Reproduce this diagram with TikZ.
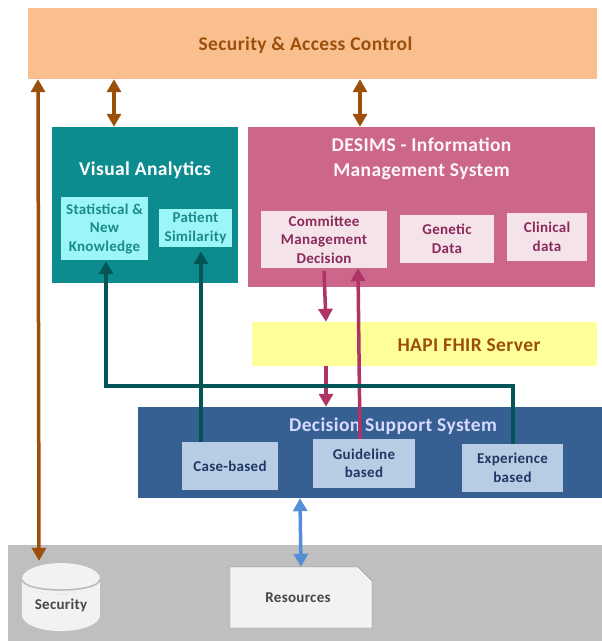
\documentclass[tikz,border=0pt]{standalone}
\usepackage{fontspec}
\setmainfont{Carlito}[LetterSpace=2]
\usetikzlibrary{shapes.geometric, shapes.misc, arrows.meta}
\definecolor{brownline}{HTML}{9C4F0A}
\definecolor{tealline}{HTML}{045557}
\definecolor{plumline}{HTML}{AE3468}
\definecolor{blueline}{HTML}{558ED5}
\newcommand{\itemfont}{\fontsize{15}{18.5}\selectfont\bfseries}
\newcommand{\titlefont}{\fontsize{19.5}{25}\selectfont\bfseries}
\tikzstyle{panel} = [rectangle, inner sep=0pt, text centered, font=\bfseries]
\tikzstyle{security} = [panel, fill={rgb,255:red,250;green,191;blue,143}]
\tikzstyle{tealbox} = [panel, fill={rgb,255:red,13;green,140;blue,143}]
\tikzstyle{tealitem} = [panel, fill={rgb,255:red,156;green,246;blue,248}, text={rgb,255:red,26;green,138;blue,140}, font=\itemfont]
\tikzstyle{plumbox} = [panel, fill={rgb,255:red,204;green,102;blue,138}]
\tikzstyle{plumitem} = [panel, fill={rgb,255:red,245;green,227;blue,234}, text={rgb,255:red,139;green,42;blue,90}, font=\itemfont]
\tikzstyle{bluebox} = [panel, fill={rgb,255:red,54;green,96;blue,146}]
\tikzstyle{blueitem} = [panel, fill={rgb,255:red,184;green,204;blue,228}, text={rgb,255:red,31;green,56;blue,100}, font=\itemfont]
\tikzstyle{title} = [white, align=center, font=\titlefont]
\tikzstyle{arrow} = [line width=3.5pt, {Triangle[width=14pt,length=13pt]}-{Triangle[width=14pt,length=13pt]}]
\tikzstyle{uparrow} = [line width=3.5pt, -{Triangle[width=14pt,length=13pt]}]

\begin{document}
\begin{tikzpicture}[node distance=50pt]
\useasboundingbox (-312.5pt,43.5pt) rectangle (289.5pt,-597.5pt);
\node (security) [security, minimum width=569pt, minimum height=71pt, label={[xshift=-7pt, yshift=-1.5pt, brownline, font=\titlefont]center:Security \& Access Control}] {};

\node (visual) [tealbox, below of=security, xshift=-167.5pt, yshift=-111.5pt, minimum width=186pt, minimum height=156pt, label={[yshift=34.5pt, title]center:Visual Analytics}] {};
\node (desims) [plumbox, right of=visual, xshift=226.5pt, yshift=-2pt, minimum width=347pt, minimum height=160pt, label={[yshift=48pt, title, white!85!pink]center:DESIMS - Information\\Management System}] {};

\node (statistical) [tealitem, below of=visual, xshift=-40.5pt, yshift=26.5pt, minimum width=87pt, minimum height=63pt, align=center] {Statistical \&\\New\\Knowledge};
\node (patient) [tealitem, right of=statistical, xshift=41pt, yshift=.5pt, minimum width=73pt, minimum height=38pt, align=center] {Patient\\Similarity};

\node (committee) [plumitem, below of=desims, xshift=-97.5pt, yshift=17.5pt, minimum width=126pt, minimum height=57pt, align=center] {Committee\\Management\\Decision};
\node (genetic) [plumitem, right of=committee, xshift=73pt, yshift=.5pt, minimum width=94pt, minimum height=48pt, align=center] {Genetic\\Data};
\node (clinical) [plumitem, right of=genetic, xshift=50pt, yshift=2pt, minimum width=80pt, minimum height=48pt, align=center] {Clinical\\data};

\node (hapi) [panel, below of=desims, xshift=3pt, yshift=-87pt, minimum width=345pt, minimum height=44pt, fill={rgb,255:red,255;green,255;blue,153}, label={[xshift=44.5pt, yshift=-1.5pt, brownline, font=\titlefont]center:HAPI FHIR Server}] {};

\node (dss) [bluebox, below of=hapi, xshift=-54.5pt, yshift=-58.5pt, minimum width=464pt, minimum height=91pt, label={[xshift=23pt, yshift=26.5pt, title, white!85!blue]center:Decision Support System}] {};
\node (casebased) [blueitem, below of=dss, xshift=-140pt, yshift=36.5pt, minimum width=96pt, minimum height=48pt] {Case-based};
\node (guideline) [blueitem, right of=casebased, xshift=84pt, yshift=2.5pt, minimum width=102pt, minimum height=49pt, align=center] {Guideline\\based};
\node (experience) [blueitem, right of=guideline, xshift=98.5pt, yshift=-4.5pt, minimum width=101pt, minimum height=48pt, align=center] {Experience\\based};

\node (base) [panel, below of=dss, xshift=-65pt, yshift=-90.5pt, minimum width=594pt, minimum height=96pt, fill={rgb,255:red,191;green,191;blue,191}] {};
\node (resources) [chamfered rectangle, chamfered rectangle corners=north east, chamfered rectangle xsep=9pt, chamfered rectangle ysep=9pt, below of=base, xshift=-4pt, yshift=45.5pt, minimum width=142pt, minimum height=61pt, inner sep=0pt, draw={rgb,255:red,127;green,127;blue,127}, fill={rgb,255:red,242;green,242;blue,242}, text={rgb,255:red,70;green,70;blue,70}, font=\itemfont] {\hspace*{-6pt}\raisebox{-4pt}{Resources}};
\node (vault) [cylinder, shape border rotate=90, aspect=.6, left of=resources, xshift=-190pt, yshift=-7.5pt, minimum width=78pt, minimum height=68pt, inner sep=0pt, cylinder uses custom fill, cylinder body fill={rgb,255:red,242;green,242;blue,242}, cylinder end fill={rgb,255:red,242;green,242;blue,242}, text={rgb,255:red,70;green,70;blue,70}, font=\itemfont] {Security};
\draw [line width=1.5pt, gray!55] (vault.after top) .. controls +(0,-15pt) and +(0,-15pt) .. (vault.before top);

\draw [arrow, brownline] ([xshift=-274.5pt]security.south) -- ([xshift=-22pt, yshift=2pt]vault.north);
\draw [arrow, brownline, line width=4.5pt] ([xshift=-198.5pt]security.south) -- ([xshift=-31pt]visual.north);
\draw [arrow, brownline, line width=4.5pt] ([xshift=47.5pt]security.south) -- ([xshift=-61.5pt]desims.north);

\draw [uparrow, plumline] ([yshift=-3pt]committee.south) -- ([xshift=-98.5pt]hapi.north);
\draw [uparrow, plumline] ([xshift=-98.5pt]hapi.south) -- ([xshift=-44pt]dss.north);
\draw [uparrow, plumline] ([xshift=-4pt]guideline.north) -- ([xshift=34pt]committee.south);

\draw [uparrow, tealline] ([xshift=-29pt]casebased.north) -- ([xshift=5.5pt, yshift=-4pt]patient.south);
\draw [uparrow, tealline] ([xshift=.5pt]experience.north) -- ++(0,58pt) -| ([xshift=1.5pt, yshift=-1pt]statistical.south);

\draw [arrow, blueline] ([xshift=-70pt]dss.south) -- (resources.north);
\end{tikzpicture}
\end{document}
